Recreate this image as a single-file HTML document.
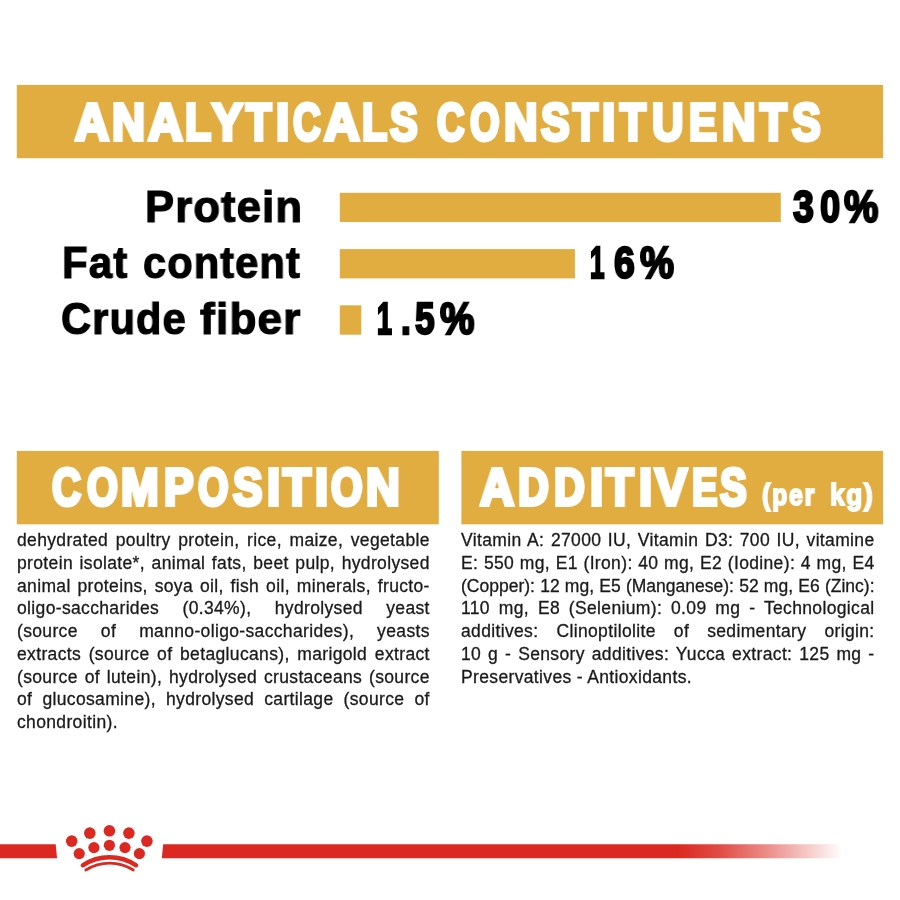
<!DOCTYPE html>
<html><head><meta charset="utf-8"><title>Analytical constituents</title>
<style>
html,body{margin:0;padding:0;background:#fff}
body{width:900px;height:900px;position:relative;overflow:hidden;font-family:"Liberation Sans",sans-serif;color:#000}
.t{position:absolute;white-space:nowrap;font-weight:bold;transform-origin:0 0;line-height:1;will-change:transform}
.h{position:absolute;left:0;width:900px;height:0;color:#fff;font-weight:bold;line-height:1;white-space:nowrap}
.h span{position:absolute;top:0;transform-origin:0 0;will-change:transform}
.p{position:absolute;font-size:17.5px;line-height:22.75px;color:#1a1a1a;letter-spacing:0.35px;-webkit-text-stroke:0.3px #1a1a1a;will-change:transform}
.p div{white-space:nowrap;text-align:justify;text-align-last:justify}
.p div.l{text-align-last:left}
.p div.n{letter-spacing:0}
</style></head><body>
<svg style="position:absolute;left:0;top:0" width="900" height="540" viewBox="0 0 900 540"><g fill="#E1AC40">
<rect x="16.8" y="84.9" width="866.3" height="73.3"/>
<rect x="16.8" y="450.9" width="422.0" height="73.4"/>
<rect x="461.4" y="450.9" width="421.7" height="73.4"/>
<rect x="339.8" y="192.8" width="441.0" height="29.2"/>
<rect x="339.8" y="249.1" width="235.1" height="29.3"/>
<rect x="339.8" y="305.3" width="21.5" height="29.4"/>
</g></svg>
<div class="t" style="left:144.56px;top:183.81px;font-size:45px;color:#000;-webkit-text-stroke:1.2px #000;letter-spacing:1.2px;transform:scaleX(0.9676)">Protein</div>
<div class="t" style="left:62.44px;top:240.11px;font-size:45px;color:#000;-webkit-text-stroke:1.2px #000;letter-spacing:1.2px;transform:scaleX(0.9329)">Fat</div>
<div class="t" style="left:142.86px;top:240.11px;font-size:45px;color:#000;-webkit-text-stroke:1.2px #000;letter-spacing:1.2px;transform:scaleX(0.9240)">content</div>
<div class="t" style="left:60.75px;top:296.11px;font-size:45px;color:#000;-webkit-text-stroke:1.2px #000;letter-spacing:1.2px;transform:scaleX(0.9252)">Crude</div>
<div class="t" style="left:200.10px;top:296.11px;font-size:45px;color:#000;-webkit-text-stroke:1.2px #000;letter-spacing:1.2px;transform:scaleX(0.9817)">fiber</div>
<div class="t" style="left:762.16px;top:479.91px;font-size:30px;color:#fff;-webkit-text-stroke:2px #fff;letter-spacing:2px;transform:scaleX(0.8354)">(per</div>
<div class="t" style="left:830.04px;top:479.91px;font-size:30px;color:#fff;-webkit-text-stroke:2px #fff;letter-spacing:2px;transform:scaleX(0.8680)">kg)</div>
<div class="h" style="top:96.43px;font-size:52.3px;color:#fff;-webkit-text-stroke:4px #fff"><span style="left:75.07px;transform:scaleX(0.9010)">A</span><span style="left:111.89px;transform:scaleX(0.8730)">N</span><span style="left:148.08px;transform:scaleX(0.9160)">A</span><span style="left:184.96px;transform:scaleX(0.8180)">L</span><span style="left:212.04px;transform:scaleX(0.8799)">Y</span><span style="left:245.99px;transform:scaleX(0.7973)">T</span><span style="left:275.85px;transform:scaleX(0.9037)">I</span><span style="left:292.67px;transform:scaleX(0.7307)">C</span><span style="left:323.51px;transform:scaleX(0.9410)">A</span><span style="left:362.00px;transform:scaleX(0.7865)">L</span><span style="left:389.93px;transform:scaleX(0.7905)">S</span> <span style="left:436.87px;transform:scaleX(0.7256)">C</span><span style="left:470.26px;transform:scaleX(0.7213)">O</span><span style="left:504.28px;transform:scaleX(0.8844)">N</span><span style="left:540.97px;transform:scaleX(0.8177)">S</span><span style="left:572.56px;transform:scaleX(0.7806)">T</span><span style="left:602.45px;transform:scaleX(0.9037)">I</span><span style="left:619.62px;transform:scaleX(0.8085)">T</span><span style="left:651.63px;transform:scaleX(0.8286)">U</span><span style="left:689.00px;transform:scaleX(0.7886)">E</span><span style="left:721.88px;transform:scaleX(0.8844)">N</span><span style="left:759.67px;transform:scaleX(0.8363)">T</span><span style="left:791.97px;transform:scaleX(0.8177)">S</span></div>
<div class="h" style="top:462.23px;font-size:51px;color:#fff;-webkit-text-stroke:4px #fff"><span style="left:52.32px;transform:scaleX(0.7840)">C</span><span style="left:86.72px;transform:scaleX(0.7772)">O</span><span style="left:120.95px;transform:scaleX(0.8855)">M</span><span style="left:163.97px;transform:scaleX(0.8661)">P</span><span style="left:198.31px;transform:scaleX(0.7625)">O</span><span style="left:233.04px;transform:scaleX(0.8641)">S</span><span style="left:266.91px;transform:scaleX(0.9191)">I</span><span style="left:282.79px;transform:scaleX(0.8951)">T</span><span style="left:314.91px;transform:scaleX(0.9191)">I</span><span style="left:330.92px;transform:scaleX(0.7920)">O</span><span style="left:365.91px;transform:scaleX(0.9160)">N</span></div>
<div class="h" style="top:462.23px;font-size:51px;color:#fff;-webkit-text-stroke:4px #fff"><span style="left:480.11px;transform:scaleX(0.9216)">A</span><span style="left:518.01px;transform:scaleX(0.8362)">D</span><span style="left:554.01px;transform:scaleX(0.8362)">D</span><span style="left:589.91px;transform:scaleX(0.9191)">I</span><span style="left:605.77px;transform:scaleX(0.8837)">T</span><span style="left:638.91px;transform:scaleX(0.9191)">I</span><span style="left:654.88px;transform:scaleX(0.9408)">V</span><span style="left:692.11px;transform:scaleX(0.7466)">E</span><span style="left:719.94px;transform:scaleX(0.7805)">S</span></div>
<div class="h" style="top:183.61px;font-size:45px;color:#000;-webkit-text-stroke:2.4px #000"><span style="left:793.21px;transform:scaleX(0.8319)">3</span><span style="left:819.53px;transform:scaleX(0.8059)">0</span><span style="left:844.33px;transform:scaleX(0.8595)">%</span></div>
<div class="h" style="top:239.71px;font-size:45px;color:#000;-webkit-text-stroke:2.4px #000"><span style="left:589.87px;transform:scaleX(0.5789)">1</span><span style="left:613.93px;transform:scaleX(0.8273)">6</span><span style="left:639.82px;transform:scaleX(0.8497)">%</span></div>
<div class="h" style="top:295.71px;font-size:45px;color:#000;-webkit-text-stroke:2.4px #000"><span style="left:377.04px;transform:scaleX(0.5959)">1</span><span style="left:400.75px;transform:scaleX(0.7740)">.</span><span style="left:415.09px;transform:scaleX(0.7812)">5</span><span style="left:440.43px;transform:scaleX(0.8595)">%</span></div>
<div class="p" style="left:17px;top:529.36px;width:412.8px">
<div>dehydrated poultry protein, rice, maize, vegetable</div>
<div>protein isolate*, animal fats, beet pulp, hydrolysed</div>
<div>animal proteins, soya oil, fish oil, minerals, fructo-</div>
<div>oligo-saccharides (0.34%), hydrolysed yeast</div>
<div>(source of manno-oligo-saccharides), yeasts</div>
<div>extracts (source of betaglucans), marigold extract</div>
<div>(source of lutein), hydrolysed crustaceans (source</div>
<div>of glucosamine), hydrolysed cartilage (source of</div>
<div class="l">chondroitin).</div>
</div>
<div class="p" style="left:461px;top:528.96px;width:413.5px">
<div>Vitamin A: 27000 IU, Vitamin D3: 700 IU, vitamine</div>
<div>E: 550 mg, E1 (Iron): 40 mg, E2 (Iodine): 4 mg, E4</div>
<div class="n">(Copper): 12 mg, E5 (Manganese): 52 mg, E6 (Zinc):</div>
<div>110 mg, E8 (Selenium): 0.09 mg - Technological</div>
<div>additives: Clinoptilolite of sedimentary origin:</div>
<div>10 g - Sensory additives: Yucca extract: 125 mg -</div>
<div class="l">Preservatives - Antioxidants.</div>
</div>
<svg style="position:absolute;left:0;top:800px" width="900" height="100" viewBox="0 800 900 100">
<defs><linearGradient id="g" gradientUnits="userSpaceOnUse" x1="678" x2="842" y1="0" y2="0"><stop offset="0" stop-color="#DB2921"/><stop offset="0.25" stop-color="#DB2921" stop-opacity="0.84"/><stop offset="0.5" stop-color="#DB2921" stop-opacity="0.58"/><stop offset="0.75" stop-color="#DB2921" stop-opacity="0.3"/><stop offset="1" stop-color="#DB2921" stop-opacity="0"/></linearGradient></defs>
<polygon points="0,844.2 55.7,844.2 57,858.2 0,858.2" fill="#DB2921"/>
<polygon points="163.2,844.2 842,844.2 842,858.2 161.8,858.2" fill="url(#g)"/>
<g fill="#DB2921">
<circle cx="71.7" cy="841.1" r="5.8"/><circle cx="89.8" cy="833.1" r="5.8"/><circle cx="109.4" cy="830.8" r="5.8"/><circle cx="128.9" cy="833.1" r="5.8"/><circle cx="146.9" cy="841.1" r="5.8"/>
<circle cx="79.2" cy="853.6" r="5.6"/><circle cx="93.9" cy="847.6" r="5.6"/><circle cx="109.4" cy="845.3" r="5.6"/><circle cx="125" cy="847.6" r="5.6"/><circle cx="139.4" cy="853.6" r="5.6"/>
</g>
<path d="M82.8 865.3 A47.9 47.9 0 0 1 136.1 865.3" fill="none" stroke="#DB2921" stroke-width="4.4" stroke-linecap="round"/>
<path d="M85.8 870 A44.3 44.3 0 0 1 133.3 870" fill="none" stroke="#DB2921" stroke-width="2.7" stroke-linecap="round"/>
</svg>
</body></html>
